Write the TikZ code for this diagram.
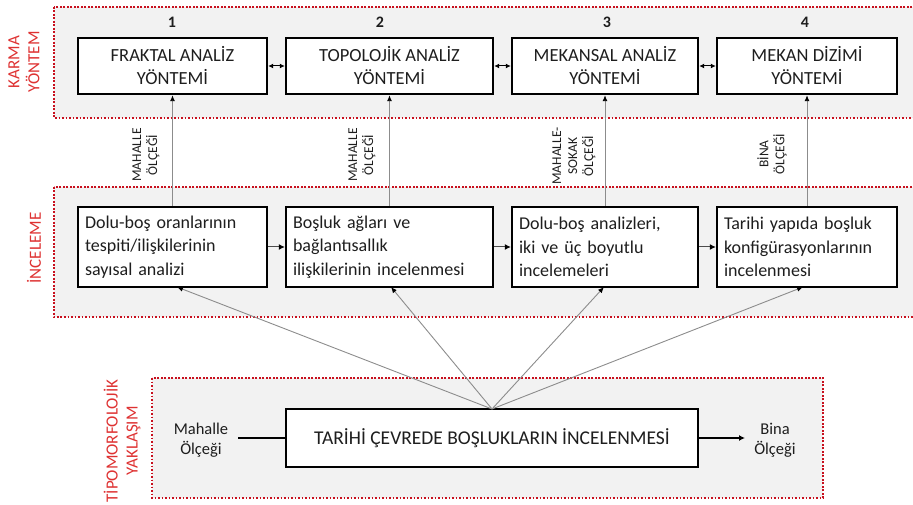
\documentclass[tikz,border=0pt]{standalone}
\usepackage{fontspec}
\setmainfont{Carlito}
\usetikzlibrary{arrows.meta}
\definecolor{dred}{RGB}{200,16,30}
\definecolor{tred}{RGB}{222,50,50}
\definecolor{pgray}{RGB}{242,242,242}
\definecolor{lgray}{RGB}{140,140,140}
\definecolor{txt}{RGB}{30,30,30}
\begin{document}
\begin{tikzpicture}[x=1pt,y=-1pt,
  panel/.style={draw=dred,fill=pgray,line width=2.4pt,dash pattern=on 1.9pt off 1.6pt},
  topbox/.style={draw=black,fill=white,line width=2.4pt,inner sep=0pt,align=center,font=\fontsize{18.5}{23}\selectfont,text=txt},
  midbox/.style={draw=black,fill=white,line width=2.4pt,inner sep=0pt,align=left,font=\fontsize{18}{23.5}\selectfont,text=txt},
  sidelbl/.style={text=tred,rotate=90,align=center,font=\fontsize{17}{20}\selectfont},
  scalelbl/.style={rotate=90,align=center,font=\fontsize{13.5}{16}\selectfont,text=txt},
  numlbl/.style={font=\fontsize{16}{18}\selectfont\bfseries,text=txt},
  uparrow/.style={draw=lgray,line width=0.9pt,-{Latex[length=6pt,width=5pt,black]}},
  dbl/.style={draw=black,line width=1pt,{Latex[length=5pt,width=5pt]}-{Latex[length=5pt,width=5pt]}},
  harr/.style={draw=black!70,line width=1pt,-{Latex[length=6pt,width=6pt,black]}}
]
\useasboundingbox (0,0) rectangle (913,505);
% panels
\begin{scope}
\clip (0,0) rectangle (913,505);
\path[panel] (54,7) rectangle (925,118);
\path[panel] (54,187) rectangle (925,317);
\end{scope}
\path[panel] (152,378) rectangle (823,498);

% side labels
\node[sidelbl] (lkarma) at (24,62) {KARMA\\YÖNTEM};
\node[sidelbl] (lincel) at (34,248) {İNCELEME};
\node[sidelbl] (ltipo) at (122,441) {TİPOMORFOLOJİK\\YAKLAŞIM};

% top boxes
\node[topbox,minimum width=189pt,minimum height=56pt] (t1) at (172.5,66) {FRAKTAL ANALİZ\\YÖNTEMİ};
\node[topbox,minimum width=207pt,minimum height=56pt] (t2) at (389.5,66) {TOPOLOJİK ANALİZ\\YÖNTEMİ};
\node[topbox,minimum width=186pt,minimum height=56pt] (t3) at (605,66) {MEKANSAL ANALİZ\\YÖNTEMİ};
\node[topbox,minimum width=180pt,minimum height=56pt] (t4) at (807,66) {MEKAN DİZİMİ\\YÖNTEMİ};

\node[numlbl] (n1) at (172,22) {1};
\node[numlbl] (n2) at (380,22) {2};
\node[numlbl] (n3) at (607,22) {3};
\node[numlbl] (n4) at (805,22) {4};

\draw[dbl] (t1.east) -- (t2.west);
\draw[dbl] (t2.east) -- (t3.west);
\draw[dbl] (t3.east) -- (t4.west);

% middle boxes
\node[midbox,minimum width=189pt,minimum height=80pt,text width=175pt] (m1) at (172.5,247) {Dolu-boş oranlarının\\tespiti/ilişkilerinin\\sayısal analizi};
\node[midbox,minimum width=207pt,minimum height=80pt,text width=193pt] (m2) at (389.5,247) {Boşluk ağları ve\\bağlantısallık\\ilişkilerinin incelenmesi};
\node[midbox,minimum width=186pt,minimum height=80pt,text width=172pt] (m3) at (605,247) {Dolu-boş analizleri,\\iki ve üç boyutlu\\incelemeleri};
\node[midbox,minimum width=180pt,minimum height=80pt,text width=166pt] (m4) at (807,247) {Tarihi yapıda boşluk\\konfigürasyonlarının\\incelenmesi};

\draw[harr] (m1.east) -- (m2.west);
\draw[harr] (m2.east) -- (m3.west);
\draw[harr] (m3.east) -- (m4.west);

% vertical arrows
\draw[uparrow] (m1.north -| t1.south) -- (t1.south);
\draw[uparrow] (m2.north -| t2.south) -- (t2.south);
\draw[uparrow] (m3.north -| t3.south) -- (t3.south);
\draw[uparrow] (m4.north -| t4.south) -- (t4.south);

\node[scalelbl] (s1) at (146,155) {MAHALLE\\ÖLÇEĞİ};
\node[scalelbl] (s2) at (362,155) {MAHALLE\\ÖLÇEĞİ};
\node[scalelbl] (s3) at (574,156) {MAHALLE-\\SOKAK\\ÖLÇEĞİ};
\node[scalelbl] (s4) at (772,154) {BİNA\\ÖLÇEĞİ};

% bottom box
\node[topbox,font=\fontsize{19.5}{21}\selectfont,minimum width=412pt,minimum height=58pt] (b) at (492,438) {TARİHİ ÇEVREDE BOŞLUKLARIN İNCELENMESİ};
\coordinate (fan) at (492,409);
\draw[uparrow] (fan) -- (177,287);
\draw[uparrow] (fan) -- (391,287);
\draw[uparrow] (fan) -- (604,287);
\draw[uparrow] (fan) -- (803,287);

\node[align=center,font=\fontsize{16.5}{20}\selectfont,text=txt] (lm) at (201,440) {Mahalle\\Ölçeği};
\node[align=center,font=\fontsize{16.5}{20}\selectfont,text=txt] (lb) at (775,440) {Bina\\Ölçeği};
\coordinate (lmend) at (238,438);
\coordinate (lbend) at (745,438);
\draw[black,line width=1.2pt] (lmend) -- (b.west |- lmend);
\draw[black,line width=1.2pt,-{Latex[length=6pt,width=6pt]}] (b.east |- lbend) -- (lbend);
\end{tikzpicture}
\end{document}
